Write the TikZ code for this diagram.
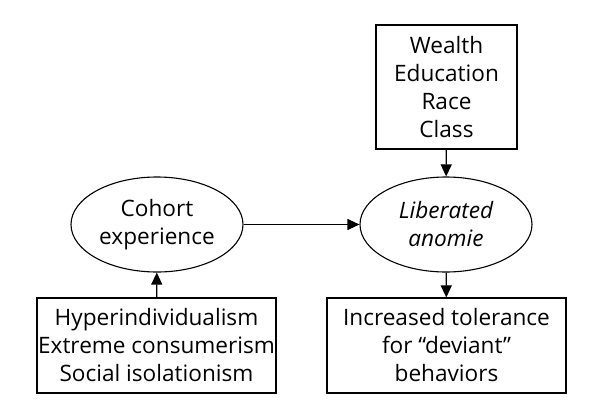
\documentclass[tikz,border=0pt]{standalone}
\usepackage{fontspec}
\setmainfont{Open Sans}
\usetikzlibrary{arrows.meta,shapes.geometric}
\begin{document}
\begin{tikzpicture}[x=1pt,y=-1pt,
  every node/.style={font=\fontsize{22.6}{28}\selectfont, align=center, inner sep=0pt},
  ell/.style={draw, ellipse, line width=1.1pt, minimum width=172pt, minimum height=95pt},
  arr/.style={line width=1.1pt, -{Triangle[length=12pt,width=11pt]}}]
\useasboundingbox (0,0) rectangle (590,410);
\node[draw, line width=1.1pt, minimum width=141pt, minimum height=124pt] (top) at (446.5,87) {Wealth\\Education\\Race\\Class};
\node[ell] (lib) at (446,224.5) {\itshape Liberated\\\itshape anomie};
\node[ell] (coh) at (157,224.5) {Cohort\\experience};
\node[draw, line width=1.1pt, minimum width=239pt, minimum height=95pt] (hyp) at (156.5,345.5) {Hyperindividualism\\Extreme consumerism\\Social isolationism};
\node[draw, line width=1.1pt, minimum width=239pt, minimum height=95pt] (inc) at (446.5,345.5) {Increased tolerance\\for \textquotedblleft deviant\textquotedblright\\behaviors};
\draw[arr] (top) -- (lib);
\draw[arr] (lib) -- (inc);
\draw[arr] (coh) -- (lib);
\draw[arr] (hyp) -- (coh);
\end{tikzpicture}
\end{document}
